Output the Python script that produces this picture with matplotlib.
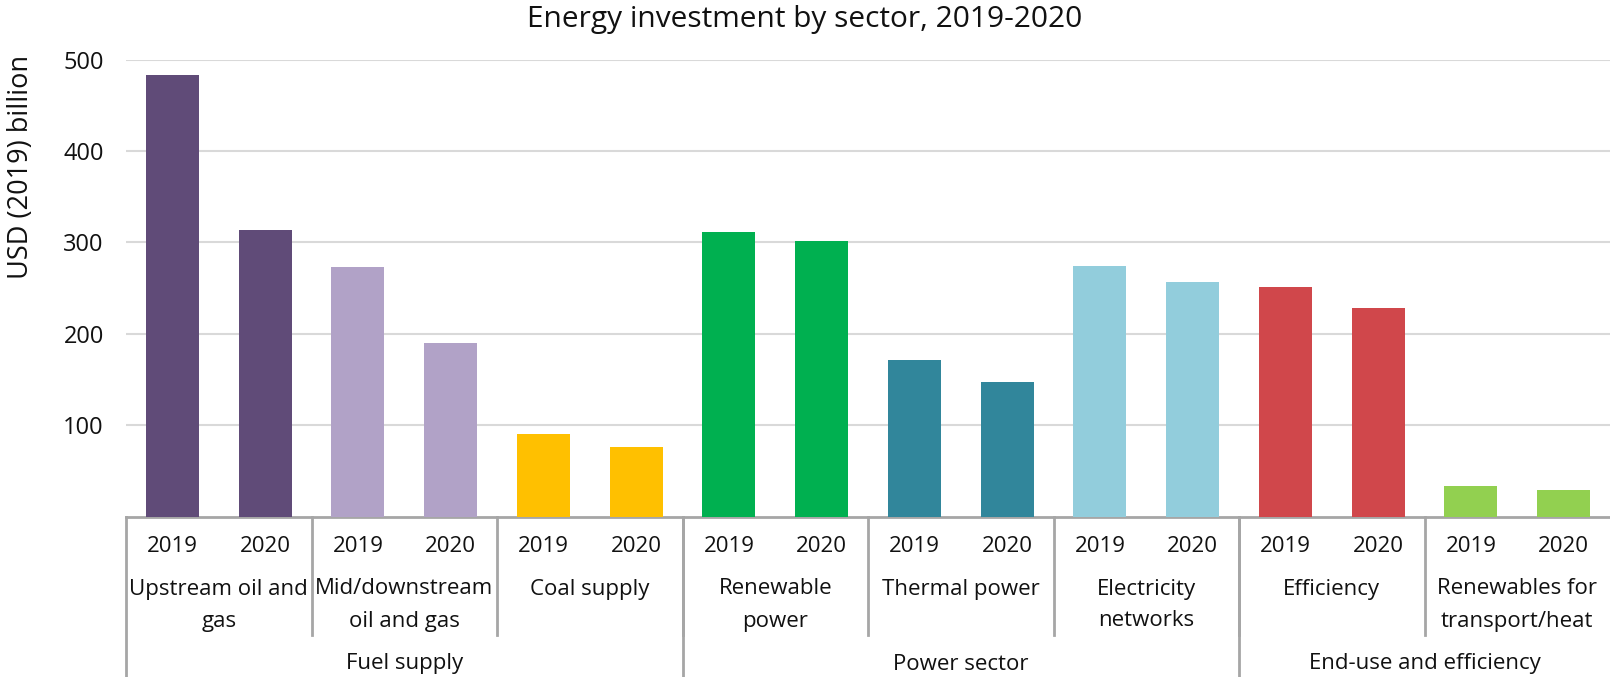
# Energy investment by sector, 2019-2020 (multi-level category bar chart)
import numpy as np
import matplotlib
matplotlib.use("Agg")
import matplotlib.pyplot as plt
import matplotlib.transforms as mtransforms

plt.rcParams['font.family'] = ['Open Sans', 'DejaVu Sans']

# data
years = ['2019', '2020']
categories = ['Upstream oil and\ngas', 'Mid/downstream\noil and gas', 'Coal supply',
              'Renewable\npower', 'Thermal power', 'Electricity\nnetworks',
              'Efficiency', 'Renewables for\ntransport/heat']
values_2019 = [483, 273, 90, 311, 171, 274, 251, 33]
values_2020 = [313, 190, 76, 301, 147, 257, 228, 29]
groups = ['Fuel supply', 'Power sector', 'End-use and efficiency']
group_sizes = [3, 3, 2]   # number of categories per group
colors = ['#604B78', '#B1A2C7', '#FFC000', '#00B050',
          '#31869B', '#92CDDC', '#D0474B', '#92D050']

W, H = 1610, 677
fig = plt.figure(figsize=(W / 100, H / 100), dpi=100)
ax_left, ax_right = 126 / W, 1.0
ax_bottom, ax_top = 1 - 516.5 / H, 1 - 59.6 / H
ax = fig.add_axes([ax_left, ax_bottom, ax_right - ax_left, ax_top - ax_bottom])
ax_h = (ax_top - ax_bottom) * H   # axes height in px
ax_w = (ax_right - ax_left) * W


def ay(px):
    # pixels below the x axis -> axes fraction
    return -px / ax_h


n = len(categories)
x = np.arange(2 * n)
vals = []
cols = []
for i in range(n):
    vals += [values_2019[i], values_2020[i]]
    cols += [colors[i], colors[i]]

ax.bar(x, vals, width=0.57, color=cols, zorder=3)

ax.set_xlim(-0.5, 2 * n - 0.5)
ax.set_ylim(0, 500)
ax.set_yticks([100, 200, 300, 400, 500])
ax.yaxis.grid(True, color='#D9D9D9', linewidth=1.5, zorder=0)
ax.tick_params(axis='y', length=0, pad=16, labelsize=17, labelcolor='#111111')
ax.set_xticks([])
for s in ['top', 'right', 'left']:
    ax.spines[s].set_visible(False)
ax.spines['bottom'].set_color('#A6A6A6')
ax.spines['bottom'].set_linewidth(2)
ax.set_ylabel('USD (2019) billion', fontsize=19.5, color='#111111')
ax.yaxis.set_label_coords(-(126 - 35) / ax_w, (516.5 - 167) / ax_h)

fig.text(0.5, 1 - 20 / H, 'Energy investment by sector, 2019-2020',
         ha='center', va='center', fontsize=21.5, color='#111111')

trans = mtransforms.blended_transform_factory(ax.transData, ax.transAxes)
line_kw = dict(color='#A6A6A6', linewidth=2, transform=trans, clip_on=False)

# year labels
for xi in x:
    ax.text(xi, ay(29.5), years[xi % 2], ha='center', va='center',
            fontsize=16, color='#111111', transform=trans)

# category labels and separators
for i, cat in enumerate(categories):
    cx = 2 * i + 0.5
    for j, line in enumerate(cat.split('\n')):
        ax.text(cx, ay(72.5 + 32 * j), line, ha='center', va='center',
                fontsize=16, color='#111111', transform=trans)
    if i > 0:
        ax.plot([2 * i - 0.5, 2 * i - 0.5], [0, ay(118)], **line_kw)

# group labels and separators
start = 0
bottom_px = H - 516.5
for g, size in zip(groups, group_sizes):
    left = 2 * start - 0.5
    right = 2 * (start + size) - 0.5
    ax.text((left + right) / 2, ay(147.5), g, ha='center', va='center',
            fontsize=16, color='#111111', transform=trans)
    ax.plot([left, left], [0, ay(bottom_px + 2)], **line_kw)
    start += size

fig.savefig('out.png', dpi=100)
